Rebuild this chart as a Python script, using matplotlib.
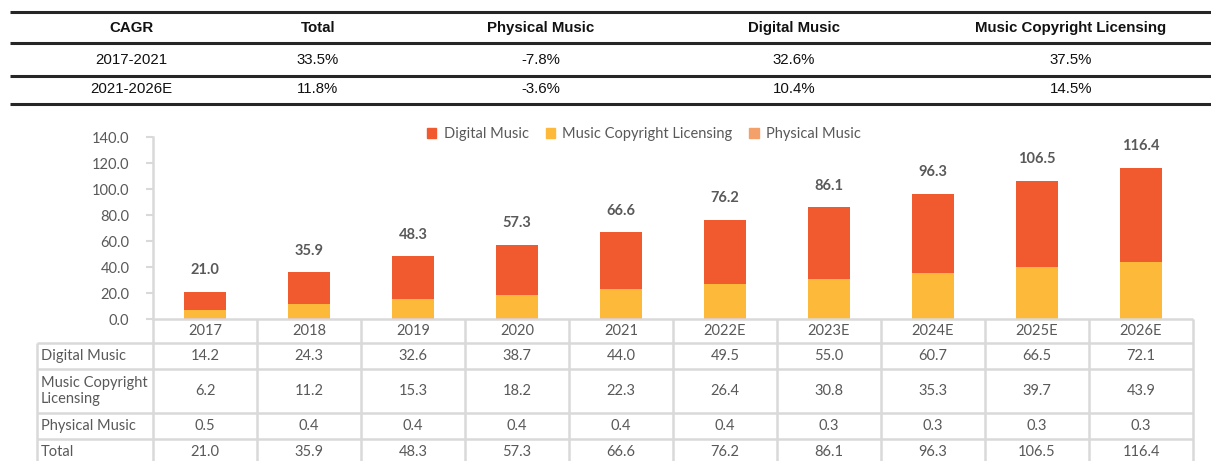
import matplotlib
matplotlib.use("Agg")
import matplotlib.pyplot as plt
from matplotlib.lines import Line2D
from matplotlib.patches import Patch

# CAGR table data
cagr_headers = ["CAGR", "Total", "Physical Music", "Digital Music", "Music Copyright Licensing"]
cagr_rows = [
    ["2017-2021", "33.5%", "-7.8%", "32.6%", "37.5%"],
    ["2021-2026E", "11.8%", "-3.6%", "10.4%", "14.5%"],
]

# chart data
years = ["2017", "2018", "2019", "2020", "2021", "2022E", "2023E", "2024E", "2025E", "2026E"]
digital = [14.2, 24.3, 32.6, 38.7, 44.0, 49.5, 55.0, 60.7, 66.5, 72.1]
copyright_lic = [6.2, 11.2, 15.3, 18.2, 22.3, 26.4, 30.8, 35.3, 39.7, 43.9]
physical = [0.5, 0.4, 0.4, 0.4, 0.4, 0.4, 0.3, 0.3, 0.3, 0.3]
total = [21.0, 35.9, 48.3, 57.3, 66.6, 76.2, 86.1, 96.3, 106.5, 116.4]

C_DIGITAL = "#F05A2E"
C_COPY = "#FDB93A"
C_PHYS = "#F4A06A"
GRID = "#D9D9D9"
TXT = "#595959"

W, H = 1211, 461
fig = plt.figure(figsize=(W / 100, H / 100), dpi=100)


def fx(x):
    return x / W


def fy(y):
    return 1 - y / H


def hline(y, x0, x1, color, lw):
    fig.add_artist(Line2D([fx(x0), fx(x1)], [fy(y), fy(y)], transform=fig.transFigure,
                          color=color, lw=lw, solid_capstyle="butt"))


def vline(x, y0, y1, color, lw):
    fig.add_artist(Line2D([fx(x), fx(x)], [fy(y0), fy(y1)], transform=fig.transFigure,
                          color=color, lw=lw, solid_capstyle="butt"))


# ---- top CAGR table ----
col_x = [131, 318, 541, 794, 1071]
for y in [12, 43, 76, 104]:
    hline(y, 10, 1211, "#262626", 2.2)
for x, h in zip(col_x, cagr_headers):
    fig.text(fx(x), fy(28), h, ha="center", va="center", fontsize=10.8,
             fontweight="bold", family="Liberation Sans", color="#111111")
for y, row in zip([60, 89], cagr_rows):
    for x, v in zip(col_x, row):
        fig.text(fx(x), fy(y), v, ha="center", va="center", fontsize=10.8,
                 family="Liberation Sans", color="#111111")

# ---- stacked bar chart ----
ax_left, ax_right, ax_bottom, ax_top = 153, 1193, 319, 137
ax = fig.add_axes([fx(ax_left), fy(ax_bottom), fx(ax_right - ax_left), (ax_bottom - ax_top) / H])

xs = range(len(years))
base2 = [a + b for a, b in zip(physical, copyright_lic)]
ax.bar(xs, physical, width=0.4, color=C_PHYS, zorder=2)
ax.bar(xs, copyright_lic, width=0.4, bottom=physical, color=C_COPY, zorder=2)
ax.bar(xs, digital, width=0.4, bottom=base2, color=C_DIGITAL, zorder=2)

for i, t in enumerate(total):
    ax.annotate(f"{t:.1f}", (i, t), xytext=(0, 15.5), textcoords="offset points",
                ha="center", va="center", fontsize=10.5, fontweight="bold",
                family="Lato", color=TXT)

ax.set_xlim(-0.5, len(years) - 0.5)
ax.set_ylim(0, 140)
ax.set_yticks(range(0, 141, 20))
ax.set_yticklabels([f"{v:.1f}" for v in range(0, 141, 20)], family="Lato", fontsize=10.5, color=TXT)
ax.set_xticks([])
for s in ["top", "right", "bottom"]:
    ax.spines[s].set_visible(False)
ax.spines["left"].set_color(GRID)
ax.spines["left"].set_linewidth(1.8)
ax.tick_params(axis="y", length=5, width=1.5, color=GRID, pad=12)
ax.patch.set_alpha(0)

handles = [Patch(color=C_DIGITAL), Patch(color=C_COPY), Patch(color=C_PHYS)]
fig.legend(handles, ["Digital Music", "Music Copyright Licensing", "Physical Music"],
           loc="center", bbox_to_anchor=(fx(644), fy(134)), ncol=3, frameon=False,
           prop={"family": "Lato", "size": 10.5}, labelcolor=TXT,
           handlelength=0.65, handleheight=0.65, handletextpad=0.5, columnspacing=1.15)

# ---- data table under the chart ----
col_w = (ax_right - ax_left) / len(years)
row_lines = [319, 343, 369, 413, 439, 466]
lw = 1.8
hline(319, ax_left, ax_right, GRID, lw)
for y in row_lines[1:]:
    hline(y, 37, ax_right, GRID, lw)
vline(37, 343, 466, GRID, lw)
for k in range(len(years) + 1):
    vline(ax_left + k * col_w, 319, 466, GRID, lw)

for i, yr in enumerate(years):
    fig.text(fx(ax_left + (i + 0.5) * col_w), fy(331), yr, ha="center", va="center",
             fontsize=10.5, family="Lato", color=TXT)

table_rows = [
    ("Digital Music", digital, 356),
    ("Music Copyright\nLicensing", copyright_lic, 391),
    ("Physical Music", physical, 426),
    ("Total", total, 452),
]
for label, vals, yc in table_rows:
    fig.text(fx(41), fy(yc), label, ha="left", va="center", fontsize=10.5,
             family="Lato", color=TXT, linespacing=1.25)
    for i, v in enumerate(vals):
        fig.text(fx(ax_left + (i + 0.5) * col_w), fy(yc), f"{v:.1f}", ha="center", va="center",
                 fontsize=10.5, family="Lato", color=TXT)

fig.savefig("out.png", dpi=100)
